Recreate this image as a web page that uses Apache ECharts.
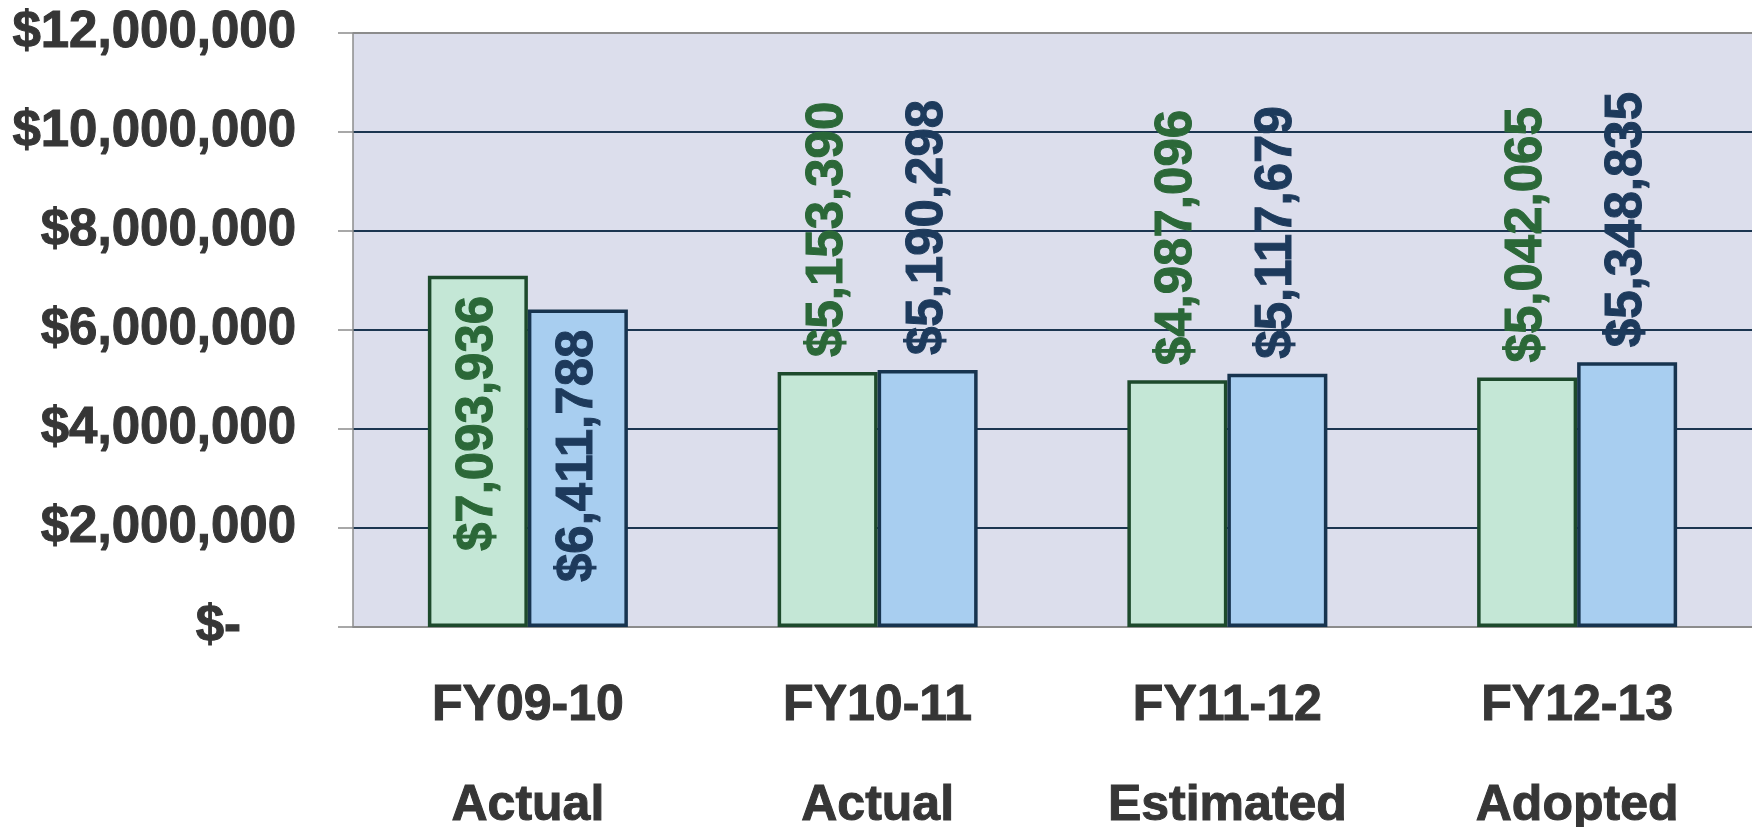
<!DOCTYPE html>
<html>
<head>
<meta charset="utf-8">
<script src="https://cdn.jsdelivr.net/npm/echarts@6/dist/echarts.min.js"></script>
<style>
html,body{margin:0;padding:0;background:#fff;}
#c{width:1752px;height:827px;}
</style>
</head>
<body>
<div id="c"></div>
<script>
const years = ['FY09-10', 'FY10-11', 'FY11-12', 'FY12-13'];
const statuses = ['Actual', 'Actual', 'Estimated', 'Adopted'];
const seriesA = [7093936, 5153390, 4987096, 5042065];
const seriesB = [6411788, 5190298, 5117679, 5348835];
const yTicks = [0, 2000000, 4000000, 6000000, 8000000, 10000000, 12000000];

const categories = years.map((y, i) => y + '\n' + statuses[i]);
const FONT = '"Liberation Sans", Arial, sans-serif';
const NAVY = '#1b3550';
const GRAYLINE = '#8c8c8c';
const TEXT = '#363636';

function money(v) {
  return '$' + Math.round(v).toLocaleString('en-US');
}

function labelBase(color) {
  return {
    show: true,
    position: 'top',
    rotate: 90,
    align: 'left',
    verticalAlign: 'middle',
    distance: 15,
    fontSize: 51,
    fontWeight: 'bold',
    fontFamily: FONT,
    color: color,
    textBorderColor: color,
    textBorderWidth: 1,
    formatter: p => money(p.value)
  };
}

function buildData(values) {
  return values.map((v, i) => {
    if (i === 0) {
      return {
        value: v,
        label: { position: 'insideTop', align: 'right', verticalAlign: 'middle', distance: 20 }
      };
    }
    return v;
  });
}

const chart = echarts.init(document.getElementById('c'), null, { renderer: 'canvas' });
chart.setOption({
  backgroundColor: '#ffffff',
  animation: false,
  textStyle: { fontFamily: FONT },
  grid: {
    left: 353, right: 0, top: 33, bottom: 200,
    outerBoundsMode: 'none',
    containLabel: false,
    show: true, backgroundColor: '#dcdeec', borderWidth: 0
  },
  xAxis: {
    type: 'category',
    data: categories,
    axisTick: { show: false },
    axisLine: { show: true, lineStyle: { color: GRAYLINE, width: 1.5 } },
    axisLabel: {
      fontSize: 50, fontWeight: 'bold', fontFamily: FONT, color: TEXT,
      textBorderColor: TEXT, textBorderWidth: 1,
      lineHeight: 100, margin: 29, interval: 0
    },
    splitLine: { show: false }
  },
  yAxis: {
    type: 'value',
    min: yTicks[0],
    max: yTicks[yTicks.length - 1],
    interval: yTicks[1] - yTicks[0],
    axisLine: { show: true, lineStyle: { color: GRAYLINE, width: 1.5 } },
    axisTick: { show: true, length: 15, lineStyle: { color: GRAYLINE, width: 1.5 } },
    axisLabel: {
      fontSize: 51, fontWeight: 'bold', fontFamily: FONT, color: TEXT,
      textBorderColor: TEXT, textBorderWidth: 1,
      margin: 57,
      formatter: v => v === 0 ? '{z|$-}' : money(v),
      rich: { z: { fontSize: 51, fontWeight: 'bold', fontFamily: FONT, color: TEXT,
        textBorderColor: TEXT, textBorderWidth: 1, padding: [0, 55, 0, 0] } }
    },
    splitLine: {
      show: true,
      lineStyle: { color: [GRAYLINE, NAVY, NAVY, NAVY, NAVY, NAVY, GRAYLINE], width: 2 }
    }
  },
  series: [
    {
      type: 'bar',
      data: buildData(seriesA),
      barWidth: 100,
      barGap: '0%',
      itemStyle: { color: '#c4e7d6', borderColor: '#1d4a2c', borderWidth: 3.5 },
      label: labelBase('#2b6838')
    },
    {
      type: 'bar',
      data: buildData(seriesB),
      barWidth: 100,
      barGap: '0%',
      itemStyle: { color: '#a8cef0', borderColor: '#17344f', borderWidth: 3.5 },
      label: labelBase('#1d3a5c')
    }
  ]
});
</script>
</body>
</html>
